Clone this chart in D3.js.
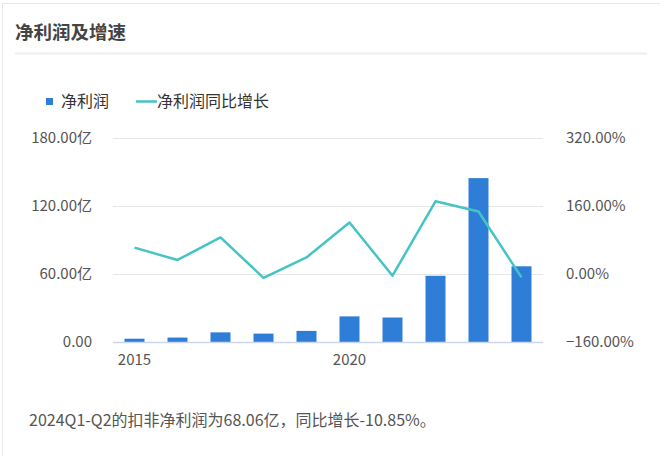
<!DOCTYPE html>
<html>
<head>
<meta charset="utf-8">
<script src="https://cdn.jsdelivr.net/npm/d3@7"></script>
<style>
  body { margin: 0; background: #fff; }
  text { font-family: "Noto Sans CJK SC", "Noto Sans", sans-serif; }
</style>
</head>
<body>
<div id="graph"></div>
<script>
// data
var categories = ["2015", "2016", "2017", "2018", "2019", "2020", "2021", "2022", "2023", "2024Q2"];
var profit = [2.9, 3.9, 8.5, 7.4, 9.8, 22.6, 21.6, 58.4, 144.6, 66.8];   // 亿
var growth = [62, 33, 86, -9, 39, 121, -4, 171, 147, -8];                // %
var leftTicks = [0, 60, 120, 180];
var rightTicks = [-160, 0, 160, 320];
var xTickLabels = ["2015", "2020"];

var width = 660, height = 456;
var plot = {left: 113, right: 543, top: 138, bottom: 342};

var svg = d3.select("#graph").append("svg")
    .attr("width", width)
    .attr("height", height);

// frame
svg.append("line").attr("x1", 2).attr("x2", 660).attr("y1", 3.5).attr("y2", 3.5)
    .attr("stroke", "#e8e8e8");
svg.append("line").attr("x1", 2.5).attr("x2", 2.5).attr("y1", 3).attr("y2", 456)
    .attr("stroke", "#e8e8e8");

// title
svg.append("text")
    .attr("x", 15).attr("y", 39)
    .attr("font-size", 18.5).attr("font-weight", "bold")
    .attr("fill", "#444")
    .text("净利润及增速");
svg.append("line").attr("x1", 15).attr("x2", 647).attr("y1", 53.5).attr("y2", 53.5)
    .attr("stroke", "#eeeeee").attr("stroke-width", 2);

// legend
var legend = svg.append("g");
legend.append("rect").attr("x", 46).attr("y", 98).attr("width", 7).attr("height", 7)
    .attr("fill", "#2e7ed8");
legend.append("text").attr("x", 61).attr("y", 107).attr("font-size", 16).attr("fill", "#333")
    .text("净利润");
legend.append("line").attr("x1", 136).attr("x2", 157).attr("y1", 101.5).attr("y2", 101.5)
    .attr("stroke", "#46c3c4").attr("stroke-width", 2.5);
legend.append("text").attr("x", 157).attr("y", 107).attr("font-size", 16).attr("fill", "#333")
    .text("净利润同比增长");

// scales
var x = d3.scaleBand()
    .domain(categories)
    .range([plot.left, plot.right])
    .paddingInner(0.535)
    .paddingOuter(0.2675);
var yL = d3.scaleLinear().domain([0, 180]).range([plot.bottom, plot.top]);
var yR = d3.scaleLinear().domain([-160, 320]).range([plot.bottom, plot.top]);

// grid
svg.append("g").selectAll("line")
    .data(leftTicks.slice(1))
    .enter().append("line")
    .attr("x1", plot.left).attr("x2", plot.right)
    .attr("y1", function(d) { return Math.round(yL(d)) + 0.5; })
    .attr("y2", function(d) { return Math.round(yL(d)) + 0.5; })
    .attr("stroke", "#e6e6e6");

// left axis
var axL = svg.append("g")
    .attr("transform", "translate(" + (plot.left - 18) + ",0)")
    .call(d3.axisLeft(yL).tickValues(leftTicks).tickSize(0)
        .tickFormat(function(d) { return d === 0 ? "0.00" : d3.format(".2f")(d) + "亿"; }));
axL.select(".domain").remove();
axL.selectAll("text").attr("font-size", 15).attr("fill", "#555")
    .style("font-family", "'Noto Sans CJK SC', sans-serif");

// right axis
var axR = svg.append("g")
    .attr("transform", "translate(" + (plot.right + 20) + ",0)")
    .call(d3.axisRight(yR).tickValues(rightTicks).tickSize(0)
        .tickFormat(function(d) { return (d < 0 ? "\u2212" + d3.format(".2f")(-d) : d3.format(".2f")(d)) + "%"; }));
axR.select(".domain").remove();
axR.selectAll("text").attr("font-size", 15).attr("fill", "#555")
    .style("font-family", "'Noto Sans CJK SC', sans-serif");

// bars
svg.selectAll(".bar")
    .data(profit)
    .enter().append("rect")
    .attr("class", "bar")
    .attr("x", function(d, i) { return x(categories[i]); })
    .attr("width", x.bandwidth())
    .attr("y", function(d) { return yL(d); })
    .attr("height", function(d) { return plot.bottom - yL(d); })
    .attr("fill", "#2e7ed8");

// x axis
var axX = svg.append("g")
    .attr("transform", "translate(0," + (plot.bottom + 0.5) + ")")
    .call(d3.axisBottom(x).tickSize(0).tickValues(xTickLabels).tickPadding(12));
axX.select(".domain").attr("stroke", "#ccd6eb").attr("stroke-width", 1.5)
    .attr("d", "M" + plot.left + ",0H" + plot.right);
axX.selectAll("text").attr("font-size", 15).attr("fill", "#555")
    .style("font-family", "'Noto Sans CJK SC', sans-serif");

// growth line
var line = d3.line()
    .x(function(d, i) { return x(categories[i]) + x.bandwidth() / 2; })
    .y(function(d) { return yR(d); });
svg.append("path")
    .datum(growth)
    .attr("d", line)
    .attr("fill", "none")
    .attr("stroke", "#46c3c4")
    .attr("stroke-width", 2.5)
    .attr("stroke-linejoin", "round");

// footnote
svg.append("text")
    .attr("x", 29).attr("y", 426)
    .attr("font-size", 16).attr("fill", "#555")
    .text("2024Q1-Q2的扣非净利润为68.06亿，同比增长-10.85%。");
</script>
</body>
</html>
